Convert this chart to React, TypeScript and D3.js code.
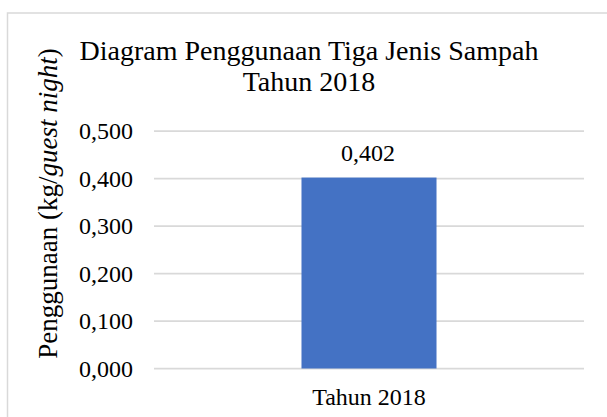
import React from "react";
import * as d3 from "d3";

const categories = ["Tahun 2018"];
const values = [0.402];
const valueLabels = ["0,402"];
const yTicks = [0, 0.1, 0.2, 0.3, 0.4, 0.5];
const titleLines = ["Diagram Penggunaan Tiga Jenis Sampah", "Tahun 2018"];

const W = 607;
const H = 417;
const FONT = "'Liberation Serif', 'Times New Roman', serif";

export default function App() {
  const x = d3.scaleBand<string>().domain(categories).range([154, 584]).paddingInner(0.686).paddingOuter(0.343);
  const y = d3.scaleLinear().domain([0, 0.5]).range([368.5, 131]);
  const fmt = (v: number) => v.toFixed(3).replace(".", ",");
  return (
    <svg width={W} height={H} style={{ position: "absolute", left: 0, top: 0, fontFamily: FONT }}>
      <rect x={0} y={0} width={W} height={H} fill="#fff" />
      <rect x={7.5} y={13} width={W + 10} height={H + 10} fill="#fff" stroke="#d9d9d9" strokeWidth={1.5} />
      {titleLines.map((t, i) => (
        <text key={i} x={309} y={60 + i * 31} textAnchor="middle" fontSize={28} fill="#000">{t}</text>
      ))}
      {yTicks.map((t) => (
        <g key={t}>
          <line x1={154} x2={584} y1={y(t)} y2={y(t)} stroke="#d9d9d9" strokeWidth={1.75} />
          <text x={133} y={y(t) + 8} textAnchor="end" fontSize={24} fill="#000">{fmt(t)}</text>
        </g>
      ))}
      {categories.map((c, i) => (
        <g key={c}>
          <rect x={x(c)!} y={y(values[i])} width={x.bandwidth()} height={y(0) - y(values[i])} fill="#4472c4" />
          <text x={x(c)! + x.bandwidth() / 2 - 1} y={y(values[i]) - 16.5} textAnchor="middle" fontSize={24} fill="#000">{valueLabels[i]}</text>
          <text x={x(c)! + x.bandwidth() / 2} y={405} textAnchor="middle" fontSize={24} fill="#000">{c}</text>
        </g>
      ))}
      <text transform="translate(57,203.5) rotate(-90)" textAnchor="middle" fontSize={27} fill="#000">
        Penggunaan (kg/<tspan fontStyle="italic">guest night</tspan>)
      </text>
    </svg>
  );
}
